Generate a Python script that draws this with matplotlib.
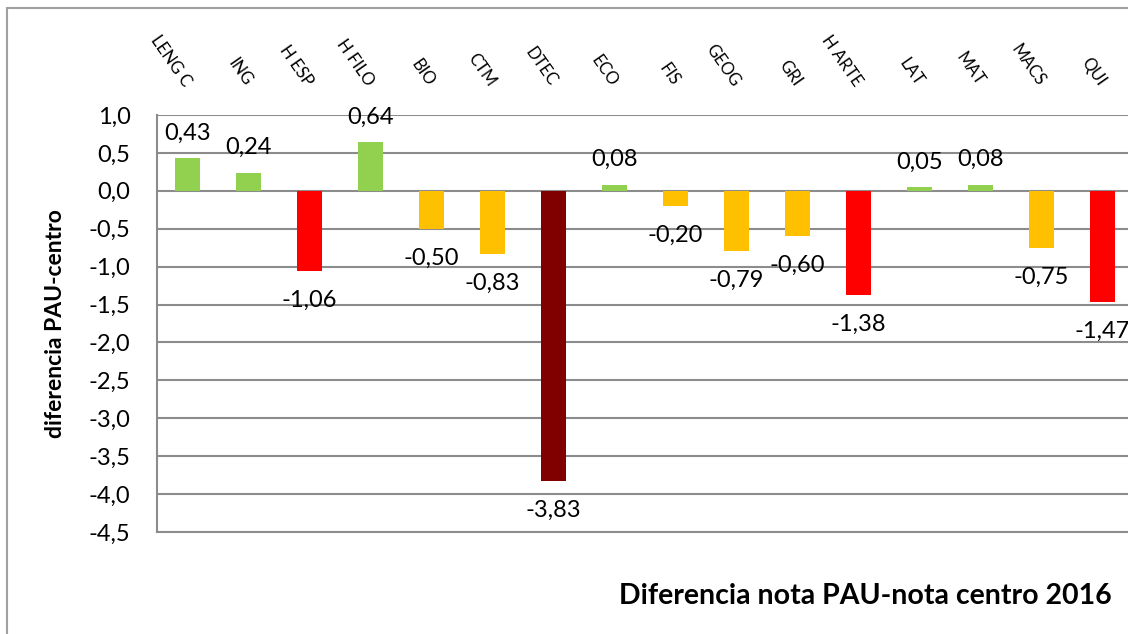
#!/usr/bin/env python3
"""Diferencia nota PAU - nota centro 2016, por asignatura."""

import matplotlib

matplotlib.use("Agg")
import matplotlib.pyplot as plt
import numpy as np
from matplotlib.patches import Rectangle
from matplotlib.ticker import FuncFormatter

subjects = [
    "LENG C", "ING", "H ESP", "H FILO", "BIO", "CTM", "DTEC", "ECO",
    "FIS", "GEOG", "GRI", "H ARTE", "LAT", "MAT", "MACS", "QUI",
]
differences = [
    0.43, 0.24, -1.06, 0.64, -0.50, -0.83, -3.83, 0.08,
    -0.20, -0.79, -0.60, -1.38, 0.05, 0.08, -0.75, -1.47,
]
y_ticks = [1.0, 0.5, 0.0, -0.5, -1.0, -1.5, -2.0, -2.5, -3.0, -3.5, -4.0, -4.5]

GREEN = "#92D050"
ORANGE = "#FFC000"
RED = "#FF0000"
DARK_RED = "#800000"
GRID = "#8c8c8c"


def bar_colour(value: float) -> str:
    if value > 0:
        return GREEN
    if value > -1.0:
        return ORANGE
    if value > -2.0:
        return RED
    return DARK_RED


def comma(value: float, digits: int) -> str:
    return f"{value:.{digits}f}".replace(".", ",")


plt.rcParams["font.family"] = ["Lato", "DejaVu Sans"]

W, H = 1128, 634
fig = plt.figure(figsize=(W / 100, H / 100), dpi=100)

# the plot area runs past the right edge of the picture, as in the source
ax = fig.add_axes([157 / W, 102 / H, 976 / W, 417 / H])

x = np.arange(len(subjects))
ax.bar(x, differences, width=0.41, color=[bar_colour(v) for v in differences], zorder=3)

for xi, v in zip(x, differences):
    offset = 18 if v > 0 else -21
    ax.annotate(
        comma(v, 2),
        xy=(xi, v),
        xytext=(0, offset),
        textcoords="offset points",
        ha="center",
        va="center",
        fontsize=17,
        color="black",
        annotation_clip=False,
    )

ax.set_xlim(-0.5, len(subjects) - 0.5)
ax.set_ylim(min(y_ticks), max(y_ticks))
ax.set_yticks(y_ticks)
ax.yaxis.set_major_formatter(FuncFormatter(lambda v, _: comma(v, 1)))
ax.tick_params(axis="y", length=0, pad=19, labelsize=17)
ax.grid(axis="y", color=GRID, linewidth=1.5)
ax.set_axisbelow(True)

ax.xaxis.tick_top()
ax.set_xticks(x)
ax.set_xticklabels(subjects, rotation=-55, ha="right", va="center", rotation_mode="anchor")
ax.tick_params(axis="x", length=0, pad=22, labelsize=12)

for side in ("top", "right"):
    ax.spines[side].set_visible(False)
for side in ("left", "bottom"):
    ax.spines[side].set_color(GRID)
    ax.spines[side].set_linewidth(1.5)

fig.text(56 / W, 0.5 * (102 + 519) / H, "diferencia PAU-centro", rotation=90,
         ha="center", va="center", fontsize=16.5, fontweight="bold")
fig.text(1112 / W, (H - 596) / H, "Diferencia nota PAU-nota centro 2016",
         ha="right", va="center", fontsize=20.5, fontweight="bold")

# chart-area border (right and bottom edges fall outside the picture)
fig.patches.append(Rectangle((7 / W, -0.1), 1.2, (H - 8) / H + 0.1,
                             transform=fig.transFigure, fill=False,
                             edgecolor="#a0a0a0", linewidth=1.5))

fig.savefig("out.png", dpi=100)
